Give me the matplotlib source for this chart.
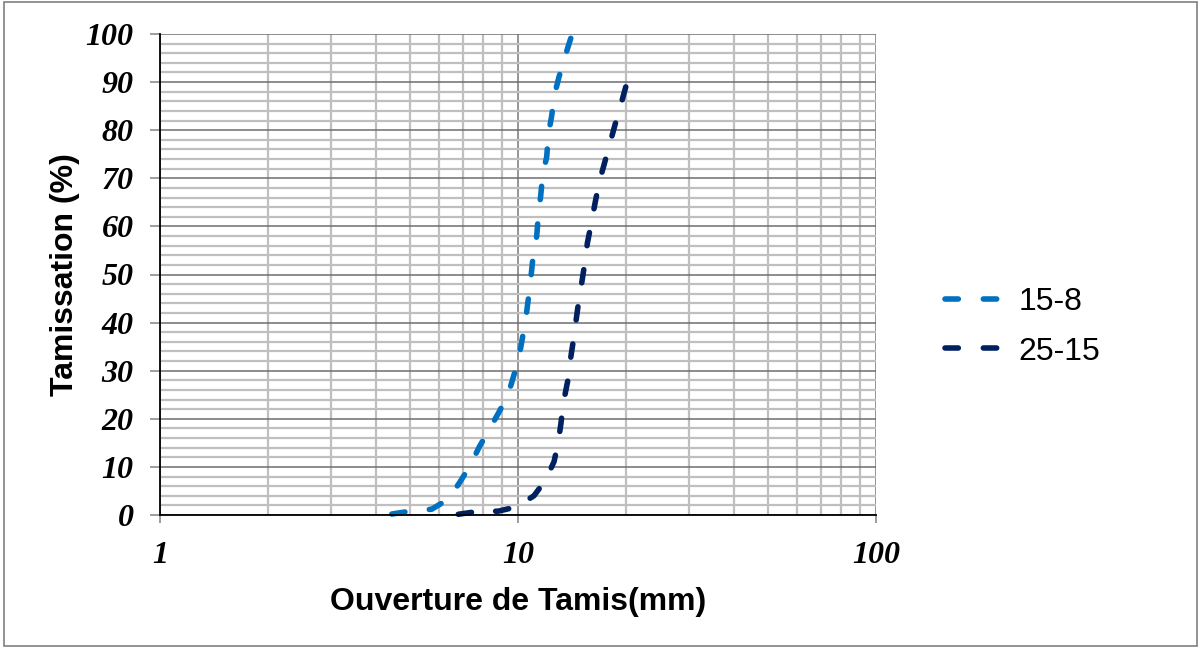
import matplotlib.pyplot as plt
import numpy as np
from matplotlib.patches import Rectangle
from matplotlib.ticker import FixedLocator, NullFormatter

# (smoothed Excel curves)
size_15_8 = [4.44, 5.01, 5.74, 6.39, 6.89, 7.34, 7.80, 8.30, 8.85, 9.39, 9.76,
             10.08, 10.31, 10.53, 10.71, 10.87, 11.03, 11.28, 11.40, 11.57,
             11.72, 12.03, 12.15, 12.42, 12.63, 13.02, 13.53, 14.04]
pass_15_8 = [0.2, 0.8, 1.2, 3.3, 6.9, 10.2, 14.2, 17.7, 21.4, 25.1, 29.3,
             33.1, 37.2, 41.2, 45.5, 49.5, 54.1, 58.0, 62.4, 66.3,
             70.7, 74.5, 79.0, 83.0, 87.2, 91.1, 95.3, 99.1]

size_25_15 = [6.81, 7.67, 8.81, 9.92, 11.08, 11.95, 12.61, 12.96, 13.19, 13.38,
              13.77, 13.97, 14.27, 14.50, 14.78, 15.07, 15.39, 15.62, 16.06,
              16.41, 16.87, 17.42, 18.07, 18.66, 19.36, 20.0]
pass_25_15 = [0.15, 0.7, 0.8, 1.7, 4.0, 7.3, 11.1, 15.2, 19.2, 23.2,
              27.9, 31.7, 36.2, 40.0, 44.5, 48.3, 52.7, 56.5, 61.0,
              64.8, 69.3, 73.0, 77.3, 81.1, 85.2, 89.0]

x_ticks = [1, 10, 100]
y_ticks = list(range(0, 101, 10))

fig = plt.figure(figsize=(12.01, 6.48), dpi=100)
ax = fig.add_axes([160/1201, 1 - 515/648, 716/1201, 481/648])

ax.set_xscale('log')
ax.set_xlim(1, 100)
ax.set_ylim(0, 100)

# grid like Excel: light minor lines, darker major ones
minor_x = [m * d for d in (1, 10) for m in range(2, 10)]
ax.xaxis.set_minor_locator(FixedLocator(minor_x))
ax.xaxis.set_minor_formatter(NullFormatter())
ax.yaxis.set_minor_locator(FixedLocator([v for v in range(0, 101, 2) if v % 10]))
ax.grid(which='minor', color='#BFBFBF', linewidth=1.6)
ax.grid(which='major', axis='y', color='#6E6E6E', linewidth=1.1)
ax.grid(which='major', axis='x', color='#8C8C8C', linewidth=1.3)
ax.set_axisbelow(True)
ax.tick_params(which='minor', length=0)

ax.set_xticks(x_ticks)
ax.set_xticklabels([str(v) for v in x_ticks])
ax.set_yticks(y_ticks)
ax.tick_params(axis='y', which='major', length=7, color='#8C8C8C', width=1.2, pad=12)
ax.tick_params(axis='x', which='major', length=6, color='#8C8C8C', width=1.2, pad=13)
for lab in ax.get_xticklabels() + ax.get_yticklabels():
    lab.set_family('Liberation Serif')
    lab.set_fontstyle('italic')
    lab.set_fontweight('bold')
    lab.set_fontsize(23)

for s in ('top', 'right'):
    ax.spines[s].set_visible(False)
ax.spines['left'].set_color('black')
ax.spines['bottom'].set_color('black')
ax.spines['left'].set_linewidth(1.3)
ax.spines['bottom'].set_linewidth(1.3)

lw = 4.0
dash_on = 2.4


def fitted_dashes(xs, ys, period=7.0):
    # stretch the gap a little so the pattern ends on a dash, like Excel does
    pts = ax.transData.transform(np.column_stack([xs, ys]))
    length = np.sum(np.hypot(*np.diff(pts, axis=0).T)) / (lw * fig.dpi / 72)
    n = max(1, round((length - dash_on) / period))
    return (dash_on, (length - dash_on) / n - dash_on)


ax.plot(size_15_8, pass_15_8, color='#0070C0', linewidth=lw,
        dashes=fitted_dashes(size_15_8, pass_15_8), dash_capstyle='round',
        label='15-8', clip_on=False)
ax.plot(size_25_15, pass_25_15, color='#002060', linewidth=lw,
        dashes=fitted_dashes(size_25_15, pass_25_15), dash_capstyle='round',
        label='25-15', clip_on=False)

ax.set_xlabel('Ouverture de Tamis(mm)', family='Liberation Sans', fontweight='bold',
              fontsize=23, labelpad=12)
ax.set_ylabel('Tamissation (%)', family='Liberation Sans', fontweight='bold',
              fontsize=23, labelpad=4)

leg = ax.legend(loc='center left', bbox_to_anchor=(916/1201, 1 - 327/648),
                bbox_transform=fig.transFigure, frameon=False,
                prop={'family': 'Liberation Sans', 'size': 23},
                handlelength=2.0, handletextpad=0.3, labelspacing=0.6)
for h in leg.get_lines():
    h.set_dashes((2.4, 4.5))

fig.patches.append(Rectangle((4/1201, 2/648), 1193/1201, 644/648, transform=fig.transFigure,
                             fill=False, edgecolor='#7F7F7F', linewidth=1.2))

fig.savefig('out.png', dpi=100)
